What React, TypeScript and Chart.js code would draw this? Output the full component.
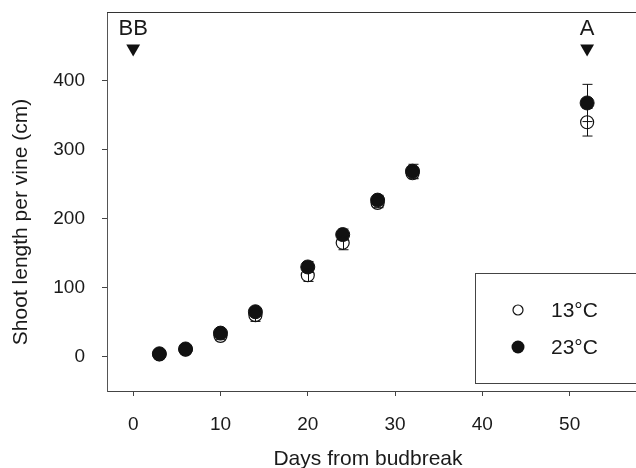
import React, { useEffect, useRef } from "react";
import { Chart, registerables } from "chart.js";

Chart.register(...registerables);

const days = [3, 6, 10, 14, 20, 24, 28, 32, 52];
const len13 = [3, 10, 30, 60, 118, 165, 223, 266, 340];
const err13 = [3, 4, 5, 9, 9, 10, 7, 8, 20];
const len23 = [4, 11, 34, 65, 130, 177, 227, 269, 368];
const err23 = [3, 4, 5, 6, 8, 8, 7, 10, 27];
const seriesLabels = ["13°C", "23°C"];
const markerDays = [0, 52];
const markerLabels = ["BB", "A"];
const markerLevel = 447;
const xTicks = [0, 10, 20, 30, 40, 50];
const yTicks = [0, 100, 200, 300, 400];
const xTitle = "Days from budbreak";
const yTitle = "Shoot length per vine (cm)";

const FONT = '"Liberation Sans", Arial, Helvetica, sans-serif';
const INK = "#1a1a1a";

const errorBars = {
  id: "errorBars",
  beforeDatasetsDraw(chart: any) {
    const { ctx, scales } = chart;
    const x = scales.x, y = scales.y;
    const sets = [
      { v: len13, e: err13 },
      { v: len23, e: err23 },
    ];
    ctx.save();
    ctx.strokeStyle = "#111";
    ctx.lineWidth = 1;
    sets.forEach((s) => {
      days.forEach((d, i) => {
        const px = Math.round(x.getPixelForValue(d)) + 0.5;
        const y1 = y.getPixelForValue(s.v[i] - s.e[i]);
        const y2 = y.getPixelForValue(s.v[i] + s.e[i]);
        ctx.beginPath();
        ctx.moveTo(px, y1);
        ctx.lineTo(px, y2);
        ctx.moveTo(px - 5, y1);
        ctx.lineTo(px + 5, y1);
        ctx.moveTo(px - 5, y2);
        ctx.lineTo(px + 5, y2);
        ctx.stroke();
      });
    });
    ctx.restore();
  },
};

const decorations = {
  id: "decorations",
  afterDraw(chart: any) {
    const { ctx, chartArea, scales } = chart;
    const x = scales.x;
    ctx.save();
    // top frame line
    ctx.strokeStyle = "#333";
    ctx.lineWidth = 1;
    ctx.beginPath();
    ctx.moveTo(chartArea.left, chartArea.top + 0.5);
    ctx.lineTo(chartArea.right + 10, chartArea.top + 0.5);
    ctx.stroke();

    // marker labels
    ctx.fillStyle = INK;
    ctx.font = `22px ${FONT}`;
    ctx.textAlign = "center";
    ctx.textBaseline = "middle";
    markerDays.forEach((d, i) => {
      ctx.fillText(markerLabels[i], x.getPixelForValue(d), 29);
    });

    // axis titles
    ctx.font = `21px ${FONT}`;
    ctx.fillText(xTitle, 368, 459);
    ctx.save();
    ctx.translate(21, 222);
    ctx.rotate(-Math.PI / 2);
    ctx.fillText(yTitle, 0, 0);
    ctx.restore();

    // legend
    ctx.strokeStyle = "#444";
    ctx.lineWidth = 1;
    ctx.fillStyle = "#fff";
    ctx.fillRect(475.5, 273.5, 200, 110);
    ctx.strokeRect(475.5, 273.5, 200, 110);
    ctx.beginPath();
    ctx.arc(518, 310, 5, 0, Math.PI * 2);
    ctx.strokeStyle = "#111";
    ctx.lineWidth = 1.2;
    ctx.stroke();
    ctx.beginPath();
    ctx.arc(518, 347, 6.5, 0, Math.PI * 2);
    ctx.fillStyle = "#111";
    ctx.fill();
    ctx.fillStyle = INK;
    ctx.font = `21px ${FONT}`;
    ctx.textAlign = "left";
    ctx.fillText(seriesLabels[0], 551, 311);
    ctx.fillText(seriesLabels[1], 551, 348);
    ctx.restore();
  },
};

const zeroPad = (s: any) => {
  s.paddingTop = 0;
  s.paddingBottom = 0;
  s.paddingLeft = 0;
  s.paddingRight = 0;
};

export default function App() {
  const ref = useRef<HTMLCanvasElement | null>(null);
  useEffect(() => {
    if (!ref.current) return;
    Chart.defaults.font.family = FONT;
    const chart = new Chart(ref.current, {
      type: "scatter",
      data: {
        datasets: [
          {
            label: seriesLabels[0],
            data: days.map((d, i) => ({ x: d, y: len13[i] })),
            pointRadius: 6.5,
            pointBorderWidth: 1.2,
            pointBorderColor: "#111",
            pointBackgroundColor: "rgba(255,255,255,0)",
          },
          {
            label: seriesLabels[1],
            data: days.map((d, i) => ({ x: d, y: len23[i] })),
            pointRadius: 7,
            pointBorderWidth: 1,
            pointBorderColor: "#111",
            pointBackgroundColor: "#111",
          },
          {
            label: "markers",
            data: markerDays.map((d) => ({ x: d, y: markerLevel })),
            pointStyle: "triangle",
            pointRotation: 180,
            pointRadius: 8,
            pointBorderWidth: 0,
            pointBackgroundColor: "#111",
            pointBorderColor: "#111",
          },
        ],
      },
      options: {
        animation: false,
        responsive: true,
        maintainAspectRatio: false,
        layout: { padding: { top: 12, right: 0, left: 0, bottom: 0 } },
        plugins: { legend: { display: false }, tooltip: { enabled: false } },
        scales: {
          x: {
            type: "linear",
            min: -3,
            max: 57.6,
            afterBuildTicks: (s: any) => {
              s.ticks = xTicks.map((v) => ({ value: v }));
            },
            afterFit: (s: any) => {
              s.height = 77;
              zeroPad(s);
            },
            grid: { drawOnChartArea: false, drawTicks: true, tickLength: 5, color: "#444" },
            border: { display: true, color: "#444", width: 1 },
            ticks: { font: { size: 19 }, color: INK, padding: 17, maxRotation: 0 },
          },
          y: {
            type: "linear",
            min: -50,
            max: 500,
            afterBuildTicks: (s: any) => {
              s.ticks = yTicks.map((v) => ({ value: v }));
            },
            afterFit: (s: any) => {
              s.width = 107;
              zeroPad(s);
            },
            grid: { drawOnChartArea: false, drawTicks: true, tickLength: 5, color: "#444" },
            border: { display: true, color: "#555", width: 1 },
            ticks: { font: { size: 19 }, color: INK, padding: 17 },
          },
        },
      },
      plugins: [errorBars, decorations],
    });
    return () => chart.destroy();
  }, []);
  return (
    <div style={{ position: "absolute", left: 0, top: 0, width: 636, height: 468, overflow: "hidden", background: "#fff" }}>
      <div style={{ position: "relative", width: 644, height: 468 }}>
        <canvas ref={ref} />
      </div>
    </div>
  );
}
